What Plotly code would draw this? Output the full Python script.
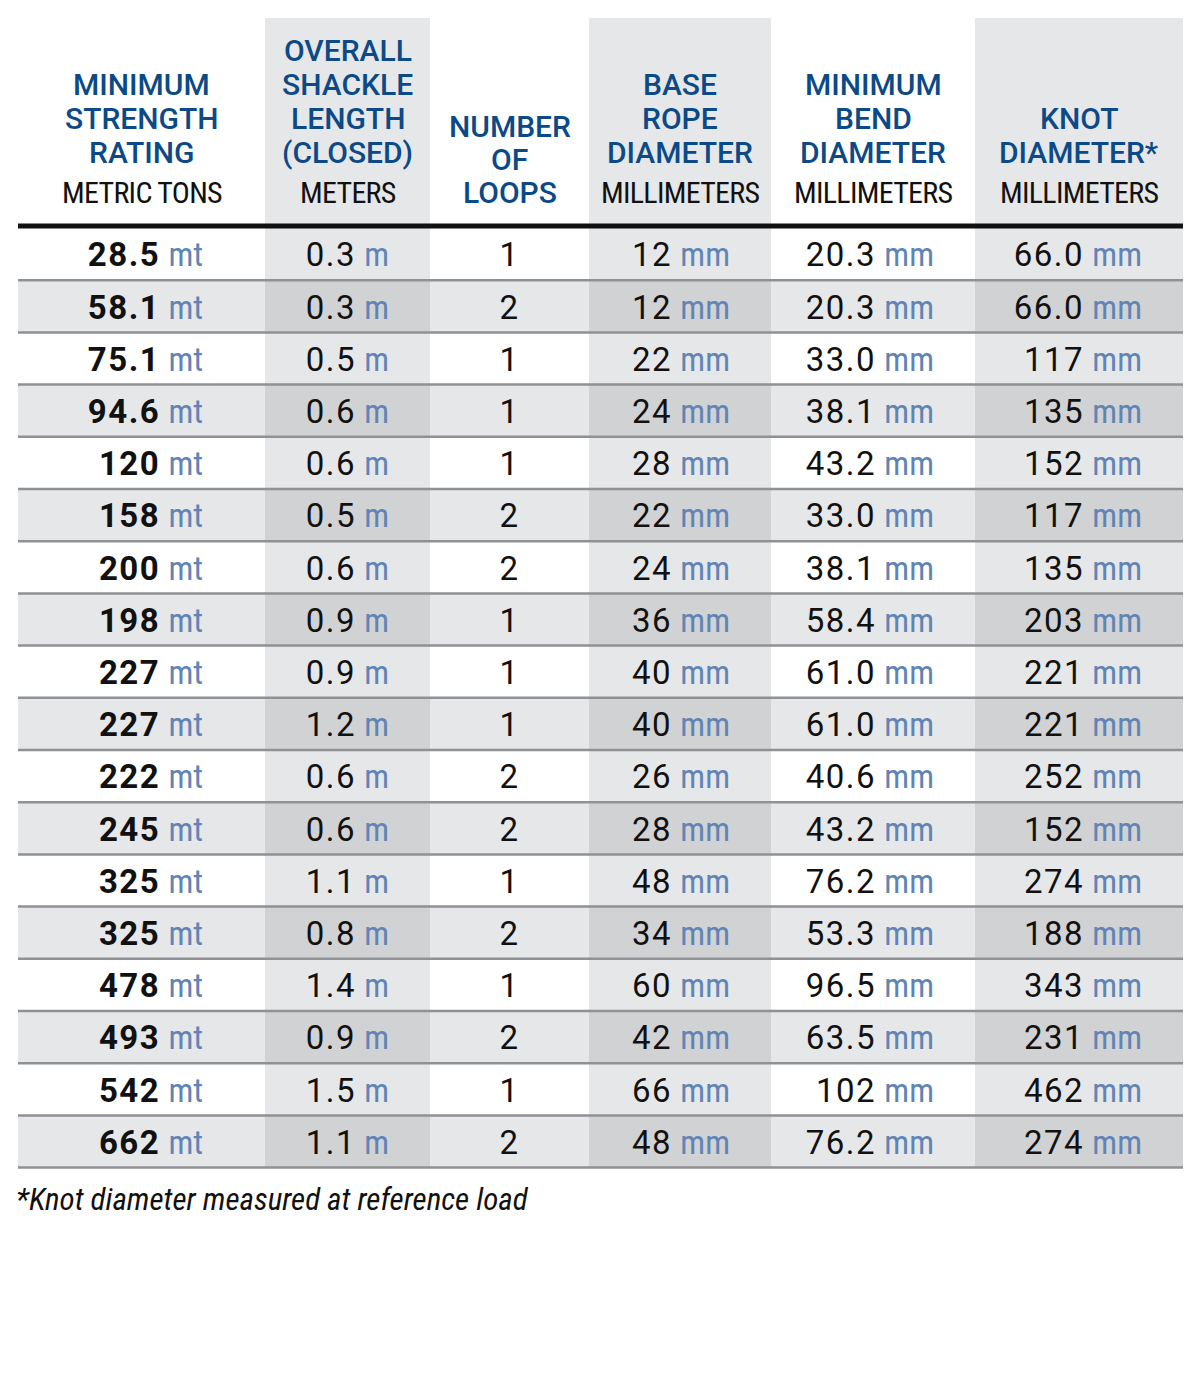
import plotly.graph_objects as go

# ---- data ----
min_strength = [28.5, 58.1, 75.1, 94.6, 120, 158, 200, 198, 227, 227, 222, 245, 325, 325, 478, 493, 542, 662]
shackle_len = [0.3, 0.3, 0.5, 0.6, 0.6, 0.5, 0.6, 0.9, 0.9, 1.2, 0.6, 0.6, 1.1, 0.8, 1.4, 0.9, 1.5, 1.1]
num_loops = [1, 2, 1, 1, 1, 2, 2, 1, 1, 1, 2, 2, 1, 2, 1, 2, 1, 2]
base_rope = [12, 12, 22, 24, 28, 22, 24, 36, 40, 40, 26, 28, 48, 34, 60, 42, 66, 48]
min_bend = [20.3, 20.3, 33.0, 38.1, 43.2, 33.0, 38.1, 58.4, 61.0, 61.0, 40.6, 43.2, 76.2, 53.3, 96.5, 63.5, 102, 76.2]
knot_dia = [66.0, 66.0, 117, 135, 152, 117, 135, 203, 221, 221, 252, 152, 274, 188, 343, 231, 462, 274]

header_titles = [
    ["MINIMUM", "STRENGTH", "RATING"],
    ["OVERALL", "SHACKLE", "LENGTH", "(CLOSED)"],
    ["NUMBER", "OF", "LOOPS"],
    ["BASE", "ROPE", "DIAMETER"],
    ["MINIMUM", "BEND", "DIAMETER"],
    ["KNOT", "DIAMETER*"],
]
header_units = ["METRIC TONS", "METERS", "", "MILLIMETERS", "MILLIMETERS", "MILLIMETERS"]
value_units = ["mt", "m", "", "mm", "mm", "mm"]
footnote = "*Knot diameter measured at reference load"

# ---- layout constants (pixels, page coords; the page body adds an 8px margin) ----
OFF = 8
col_edges = [18, 265, 430, 589, 771, 975, 1183]
shaded_cols = [False, True, False, True, False, True]
value_right = [203, 389, None, 730, 934, 1142]   # right edge of value text, None = centred
HEADER_TOP = 18
TABLE_TOP = 228
ROW_H = 52.2
TEXT_DY = 4
UNIT_Y = 192
BLUE_PITCH = 34

BLUE = "#0b4a86"
UNIT_BLUE = "#6084b5"
LIGHT = "#e6e7e9"
DARK = "#d1d2d4"
NARROW = "font-stretch:75%"


def sig3(v):
    return "{:#.3g}".format(v).rstrip(".")


def one_dec(v):
    return "{:.1f}".format(v)


columns = [
    [sig3(v) for v in min_strength],
    [one_dec(v) for v in shackle_len],
    [str(v) for v in num_loops],
    [str(v) for v in base_rope],
    [sig3(v) for v in min_bend],
    [sig3(v) for v in knot_dia],
]
n_rows = len(min_strength)

# cell background levels: header row + body rows
y_edges = [HEADER_TOP] + [TABLE_TOP + ROW_H * k for k in range(n_rows + 1)]
z = [[1 if s else 0 for s in shaded_cols]]
for i in range(n_rows):
    z.append([(i % 2) + (1 if s else 0) for s in shaded_cols])

fig = go.Figure()
fig.add_trace(go.Heatmap(
    x=col_edges, y=y_edges, z=z,
    zmin=0, zmax=2,
    colorscale=[[0, "#ffffff"], [0.5, LIGHT], [1, DARK]],
    showscale=False, hoverinfo="skip", xgap=0, ygap=0,
))

row_centers = [TABLE_TOP + ROW_H * (i + 0.5) + TEXT_DY for i in range(n_rows)]

for c, vals in enumerate(columns):
    mid = (col_edges[c] + col_edges[c + 1]) / 2
    if value_units[c]:
        unit = " <span style='color:%s;letter-spacing:0px;%s'>%s</span>" % (UNIT_BLUE, NARROW, value_units[c])
    else:
        unit = ""
    num = "<span style='letter-spacing:1.5px'>%s</span>"
    if c == 0:
        num = "<b>" + num + "</b>"
    texts = [(num % v) + unit for v in vals]
    if value_right[c] is None:
        xs, pos = [mid] * n_rows, "middle center"
    else:
        xs, pos = [value_right[c]] * n_rows, "middle left"
    fig.add_trace(go.Scatter(
        x=xs, y=row_centers, mode="text", text=texts, textposition=pos,
        textfont=dict(family="Roboto", size=33, color="#111111"),
        hoverinfo="skip", showlegend=False,
    ))

# row separators and header rule
for k in range(1, n_rows + 1):
    yy = TABLE_TOP + ROW_H * k
    fig.add_shape(type="line", x0=col_edges[0], x1=col_edges[-1], y0=yy, y1=yy,
                  line=dict(color="#909194", width=2.5), layer="above")
fig.add_shape(type="line", x0=col_edges[0], x1=col_edges[-1], y0=TABLE_TOP - 2, y1=TABLE_TOP - 2,
              line=dict(color="#111111", width=5), layer="above")

# header text
for c, lines in enumerate(header_titles):
    mid = (col_edges[c] + col_edges[c + 1]) / 2
    if header_units[c]:
        last = UNIT_Y - 40
        pitch = BLUE_PITCH
        fig.add_annotation(x=mid, y=UNIT_Y, xref="x", yref="y",
                           text="<span style='%s;letter-spacing:-0.7px'>%s</span>" % (NARROW, header_units[c]),
                           showarrow=False, yanchor="middle",
                           font=dict(family="Roboto", size=30, color="#111111"))
    else:
        last = UNIT_Y
        pitch = 33
    n = len(lines)
    for j, ln in enumerate(lines):
        fig.add_annotation(x=mid, y=last - pitch * (n - 1 - j), xref="x", yref="y", text=ln,
                           showarrow=False, yanchor="middle",
                           font=dict(family="Roboto", size=30, color=BLUE, weight=500))

fig.add_annotation(x=col_edges[0] - 4, y=1199, xref="x", yref="y",
                   text="<i><span style='font-stretch:78%%'>%s</span></i>" % footnote,
                   showarrow=False, xanchor="left", yanchor="middle",
                   font=dict(family="Roboto", size=31, color="#111111"))

fig.update_layout(
    width=1200, height=1400,
    margin=dict(l=0, r=0, t=0, b=0),
    paper_bgcolor="white", plot_bgcolor="white",
    showlegend=False,
    xaxis=dict(range=[OFF, 1200 + OFF], visible=False, fixedrange=True),
    yaxis=dict(range=[1400 + OFF, OFF], visible=False, fixedrange=True),
)

fig.write_html("out.html")
